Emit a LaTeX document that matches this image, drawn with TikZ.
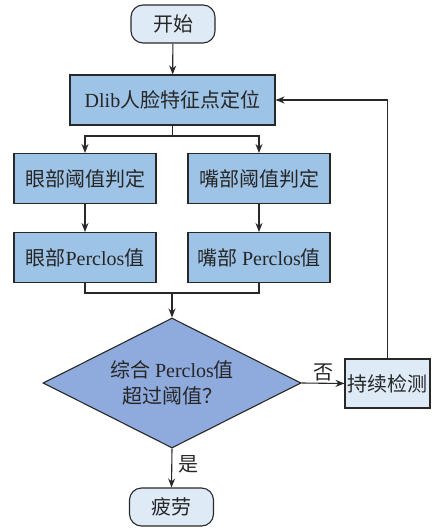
\documentclass[tikz,border=0pt]{standalone}
\usepackage{fontspec}
\setmainfont{Liberation Serif}
\newfontfamily\cjk{Noto Sans CJK SC}
\usetikzlibrary{shapes.geometric,arrows.meta}
\definecolor{lightfill}{RGB}{222,235,247}
\definecolor{boxfill}{RGB}{157,195,230}
\definecolor{decfill}{RGB}{143,170,220}
\definecolor{edge}{RGB}{40,40,40}
\tikzset{
  base/.style={draw=edge, line width=1.1pt, text=black!85, inner sep=0pt, align=center},
  terminal/.style={base, fill=lightfill, rounded corners=12pt, minimum width=84pt, minimum height=38pt},
  stepbox/.style={base, fill=boxfill, minimum width=142pt, minimum height=50pt},
  widebox/.style={base, fill=boxfill, minimum width=205pt, minimum height=50pt},
  keepbox/.style={base, fill=lightfill, minimum width=85pt, minimum height=49pt},
  decision/.style={base, fill=decfill, diamond, aspect=2, minimum width=258pt, minimum height=130pt},
  link/.style={draw=edge, line width=1.1pt},
  arr/.style={link, -{Stealth[length=9pt,width=7pt]}},
  lbl/.style={text=black!85, inner sep=2pt}
}
\begin{document}
\begin{tikzpicture}[x=1pt, y=-1pt, font=\fontsize{20}{27}\selectfont]
\useasboundingbox (0,0) rectangle (436,529);

% nodes
\node[terminal] (start) at (173,24) {\cjk 开始};
\node[widebox] (dlib) at (172.5,100) {Dlib{\cjk 人脸特征点定位}};
\node[stepbox] (eye1) at (85,178.5) {\cjk 眼部阈值判定};
\node[stepbox] (mouth1) at (259,178.5) {\cjk 嘴部阈值判定};
\node[stepbox] (eye2) at (85,257.5) {{\cjk 眼部}Perclos{\cjk 值}};
\node[stepbox] (mouth2) at (259,257.5) {{\cjk 嘴部} Perclos{\cjk 值}};
\node[decision] (dec) at (172,383) {{\cjk 综合} Perclos{\cjk 值}\\[-1pt]{\cjk 超过阈值？}};
\node[keepbox] (keep) at (387.5,383.5) {\cjk 持续检测};
\node[terminal] (tired) at (171.5,507) {\cjk 疲劳};

% connectors
\coordinate (split) at (172.5,136);
\coordinate (merge) at (172,293);
\draw[arr] (start) -- (dlib);
\draw[link] (dlib.south) -- (split);
\draw[arr] (split) -| (eye1.north);
\draw[arr] (split) -| (mouth1.north);
\draw[arr] (eye1) -- (eye2);
\draw[arr] (mouth1) -- (mouth2);
\draw[link] (eye2.south) |- (merge) -| (mouth2.south);
\draw[arr] (merge) -- (dec.north);
\draw[arr] (dec.east) -- node[lbl, above] {\cjk 否} (keep.west);
\draw[arr] (dec.south) -- node[lbl, right, pos=0.4, xshift=4pt] {\cjk 是} (tired.north);
\draw[arr] (keep.north) |- (dlib.east);
\end{tikzpicture}
\end{document}
